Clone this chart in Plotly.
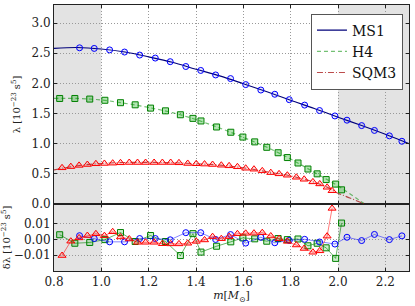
import plotly.graph_objects as go

# ---------------- data ----------------
ms1_mass = [0.908, 0.970, 1.035, 1.098, 1.162, 1.228, 1.291, 1.357, 1.420, 1.483, 1.546, 1.610,
            1.674, 1.733, 1.794, 1.859, 1.922, 1.987, 2.038, 2.100, 2.154, 2.217, 2.270]
ms1_lambda = [2.59, 2.58, 2.555, 2.52, 2.47, 2.42, 2.36, 2.28, 2.215, 2.14, 2.08, 1.98,
              1.89, 1.82, 1.73, 1.64, 1.55, 1.46, 1.39, 1.30, 1.22, 1.13, 1.04]
ms1_resid = [0.0024, 0.0006, -0.0015, -0.0015, 0.0006, 0.0006, -0.0002, 0.0043, 0.0043, 0.0000, 0.0031, -0.0023,
             0.0014, -0.0021, -0.0006, 0.0001, -0.0016, -0.0029, 0.0014, -0.0007, 0.0032, -0.0001, 0.0023]

h4_mass = [0.824, 0.888, 0.951, 1.015, 1.081, 1.143, 1.208, 1.271, 1.334, 1.387, 1.421, 1.487,
           1.547, 1.598, 1.648, 1.699, 1.747, 1.786, 1.831, 1.873, 1.912, 1.950, 1.990, 2.015]
h4_lambda = [1.75, 1.75, 1.74, 1.72, 1.68, 1.645, 1.59, 1.545, 1.48, 1.42, 1.377, 1.277,
             1.19, 1.11, 1.03, 0.94, 0.85, 0.77, 0.68, 0.58, 0.50, 0.405, 0.33, 0.235]
h4_resid = [0.0030, -0.0024, -0.0019, -0.0001, 0.0044, -0.0013, 0.0025, -0.0013, -0.0102, 0.0037, -0.0080, -0.0043,
            -0.0015, 0.0010, 0.0004, -0.0011, 0.0006, -0.0001, 0.0003, -0.0040, -0.0024, -0.0053, -0.0120, 0.0104]

sqm3_mass = [0.834, 0.871, 0.906, 0.941, 0.977, 1.013, 1.048, 1.081, 1.118, 1.153, 1.187, 1.223,
             1.258, 1.293, 1.328, 1.365, 1.401, 1.436, 1.470, 1.507, 1.540, 1.575, 1.610, 1.645,
             1.680, 1.716, 1.751, 1.786, 1.824, 1.857, 1.894, 1.923, 1.954, 1.975]
sqm3_lambda = [0.60, 0.62, 0.64, 0.655, 0.667, 0.672, 0.677, 0.683, 0.688, 0.688, 0.688, 0.688,
               0.688, 0.688, 0.683, 0.672, 0.667, 0.662, 0.655, 0.643, 0.633, 0.617, 0.593, 0.577,
               0.55, 0.52, 0.50, 0.477, 0.443, 0.41, 0.367, 0.333, 0.277, 0.22]
sqm3_resid = [-0.0102, -0.0011, 0.0010, 0.0025, 0.0036, 0.0024, 0.0049, 0.0016, 0.0003, -0.0018, -0.0018, -0.0018,
              -0.0027, -0.0028, -0.0028, -0.0024, -0.0012, -0.0003, 0.0018, 0.0005, 0.0018, 0.0036, 0.0039, 0.0040,
              0.0043, 0.0022, 0.0005, -0.0012, -0.0035, -0.0057, -0.0081, -0.0072, 0.0021, 0.0197]

# fitted curves
ms1_fit_m = [0.80, 0.90, 1.00, 1.10, 1.20, 1.30, 1.40, 1.50, 1.60, 1.70, 1.80, 1.90, 2.00, 2.10, 2.20, 2.30]
ms1_fit_l = [2.58, 2.595, 2.57, 2.52, 2.44, 2.35, 2.235, 2.125, 1.995, 1.86, 1.72, 1.585, 1.44, 1.30, 1.155, 1.00]
h4_fit_m = [0.80, 0.90, 1.00, 1.10, 1.20, 1.30, 1.40, 1.50, 1.60, 1.70, 1.80, 1.90, 2.00, 2.05, 2.10, 2.13]
h4_fit_l = [1.75, 1.75, 1.725, 1.67, 1.60, 1.515, 1.40, 1.26, 1.105, 0.94, 0.745, 0.525, 0.30, 0.17, 0.035, -0.04]
sqm3_fit_m = [0.80, 0.90, 1.00, 1.10, 1.20, 1.30, 1.40, 1.50, 1.60, 1.70, 1.80, 1.90, 1.95, 2.00, 2.05, 2.10, 2.13]
sqm3_fit_l = [0.565, 0.635, 0.672, 0.688, 0.69, 0.685, 0.667, 0.645, 0.60, 0.535, 0.465, 0.36, 0.285, 0.18, 0.10, 0.02, -0.03]

x_ticks = [0.8, 1.0, 1.2, 1.4, 1.6, 1.8, 2.0, 2.2]
top_ticks = [0.0, 0.5, 1.0, 1.5, 2.0, 2.5, 3.0]
bot_ticks = [-0.01, 0.0, 0.01]

FONT = "DejaVu Serif"

fig = go.Figure()

# ---------------- top panel: fits ----------------
fig.add_trace(go.Scatter(x=ms1_fit_m, y=ms1_fit_l, mode="lines", name="MS1", line_shape="spline",
                         line=dict(color="#00007a", width=1.1), xaxis="x2", yaxis="y2"))
fig.add_trace(go.Scatter(x=h4_fit_m, y=h4_fit_l, mode="lines", name="H4", line_shape="spline",
                         line=dict(color="rgba(0,140,0,0.55)", width=1.2, dash="4px,3px"), xaxis="x2", yaxis="y2"))
fig.add_trace(go.Scatter(x=sqm3_fit_m, y=sqm3_fit_l, mode="lines", name="SQM3", line_shape="spline",
                         line=dict(color="rgba(160,0,0,0.7)", width=1.1, dash="6px,2px,1px,2px"), xaxis="x2", yaxis="y2"))

# ---------------- top panel: data points ----------------
fig.add_trace(go.Scatter(x=ms1_mass, y=ms1_lambda, mode="markers", showlegend=False, xaxis="x2", yaxis="y2",
                         marker=dict(symbol="circle", size=6, color="rgba(0,0,255,0.08)",
                                     line=dict(color="#0000ff", width=1))))
fig.add_trace(go.Scatter(x=h4_mass, y=h4_lambda, mode="markers", showlegend=False, xaxis="x2", yaxis="y2",
                         marker=dict(symbol="square", size=6, color="rgba(0,170,0,0.3)",
                                     line=dict(color="#008000", width=1))))
fig.add_trace(go.Scatter(x=sqm3_mass, y=sqm3_lambda, mode="markers", showlegend=False, xaxis="x2", yaxis="y2",
                         marker=dict(symbol="triangle-up", size=7, color="rgba(255,0,0,0.15)",
                                     line=dict(color="#ff0000", width=1))))

# ---------------- bottom panel: residuals ----------------
fig.add_trace(go.Scatter(x=h4_mass, y=h4_resid, mode="lines+markers", showlegend=False, xaxis="x", yaxis="y",
                         line=dict(color="rgba(0,128,0,0.75)", width=0.8),
                         marker=dict(symbol="square", size=6, color="rgba(0,170,0,0.2)",
                                     line=dict(color="#008000", width=1))))
fig.add_trace(go.Scatter(x=ms1_mass, y=ms1_resid, mode="lines+markers", showlegend=False, xaxis="x", yaxis="y",
                         line=dict(color="rgba(0,0,255,0.6)", width=0.8),
                         marker=dict(symbol="circle", size=6, color="rgba(0,0,255,0.05)",
                                     line=dict(color="#0000ff", width=1))))
fig.add_trace(go.Scatter(x=sqm3_mass, y=sqm3_resid, mode="lines+markers", showlegend=False, xaxis="x", yaxis="y",
                         line=dict(color="rgba(255,0,0,0.65)", width=0.8),
                         marker=dict(symbol="triangle-up", size=7, color="rgba(255,0,0,0.15)",
                                     line=dict(color="#ff0000", width=1))))

# ---------------- shaded regions ----------------
for x0, x1 in [(0.8, 1.0), (2.0, 2.3)]:
    for yr in ["y", "y2"]:
        fig.add_shape(type="rect", xref="x", yref=f"{yr} domain", x0=x0, x1=x1, y0=0, y1=1,
                      fillcolor="#e3e3e3", line_width=0, layer="below")

axis_common = dict(showline=True, linecolor="#222", linewidth=1, mirror="ticks",
                   ticks="inside", ticklen=3, tickcolor="#222", automargin=False,
                   showgrid=True, gridcolor="#999", griddash="1px,2px", gridwidth=1,
                   zeroline=False, tickfont=dict(family=FONT, size=12, color="#222"))

fig.update_layout(
    width=415, height=306,
    margin=dict(l=54, r=6, t=5, b=35, autoexpand=False),
    paper_bgcolor="white", plot_bgcolor="white",
    font=dict(family=FONT, color="#222"),
    xaxis=dict(domain=[0, 1], anchor="y", range=[0.8, 2.3], tickvals=x_ticks, tickformat=".1f",
               title=dict(text="<i>m</i>[<i>M</i><sub>⊙</sub>]", font=dict(family=FONT, size=11), standoff=0),
               **axis_common),
    xaxis2=dict(domain=[0, 1], anchor="y2", matches="x", range=[0.8, 2.3], tickvals=x_ticks,
                showticklabels=False, **axis_common),
    yaxis=dict(domain=[0, 0.2519], anchor="x", range=[-0.02, 0.0225], tickvals=bot_ticks, tickformat=".2f",
               title=dict(text="δλ [10<sup>−23</sup> s<sup>5</sup>]", font=dict(family=FONT, size=10), standoff=4),
               **axis_common),
    yaxis2=dict(domain=[0.2519, 1], anchor="x2", range=[0, 3.3], tickvals=top_ticks, tickformat=".1f",
                title=dict(text="λ [10<sup>−23</sup> s<sup>5</sup>]", font=dict(family=FONT, size=10), standoff=8),
                **axis_common),
    legend=dict(x=0.983, y=0.968, xanchor="right", yanchor="top",
                bgcolor="white", bordercolor="#555", borderwidth=1, tracegroupgap=0,
                font=dict(family=FONT, size=14, color="#111"), itemwidth=30),
    showlegend=True,
)

fig.write_html("out.html", config={"displayModeBar": False},
               post_script="document.body.style.margin='0';document.body.style.overflow='hidden';")
